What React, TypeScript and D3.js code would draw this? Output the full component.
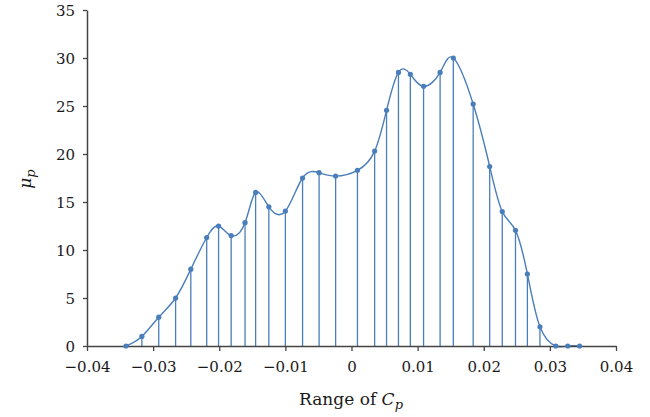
import { useEffect, useRef } from 'react';
import * as d3 from 'd3';

// sample points
const cpValues = [
  -0.0341, -0.0317, -0.02915, -0.0266, -0.0243, -0.0219, -0.0201, -0.0182,
  -0.0161, -0.0145, -0.0125, -0.01, -0.0074, -0.0049, -0.0024, 0.0009,
  0.0035, 0.0053, 0.0071, 0.0089, 0.0109, 0.0134, 0.0154, 0.0184,
  0.0209, 0.0228, 0.0248, 0.0266, 0.0285, 0.0309, 0.0327, 0.0345
];
const muValues = [
  0, 1, 3, 5, 8, 11.3, 12.5, 11.5,
  12.85, 16, 14.5, 14.05, 17.5, 18.05, 17.7, 18.3,
  20.3, 24.55, 28.5, 28.3, 27.05, 28.5, 30, 25.2,
  18.7, 14, 12.05, 7.5, 2, 0, 0, 0
];
const xTicks = [-0.04, -0.03, -0.02, -0.01, 0, 0.01, 0.02, 0.03, 0.04];
const yTicks = [0, 5, 10, 15, 20, 25, 30, 35];

const W = 650;
const H = 417;
const BLUE = '#4a7ebb';
const FONT = '"DejaVu Serif", "Liberation Serif", serif';

const App = () => {
  const svgRef = useRef(null);

  useEffect(() => {
    const svg = d3.select(svgRef.current);
    svg.selectAll('*').remove();

    const x = d3.scaleLinear().domain([-0.04, 0.04]).range([87, 616]);
    const y = d3.scaleLinear().domain([0, 35]).range([346, 10]);
    const data = cpValues.map((c, i) => ({ c, m: muValues[i] }));

    // drop lines
    svg.append('g')
      .selectAll('line')
      .data(data)
      .enter()
      .append('line')
      .attr('x1', d => x(d.c))
      .attr('x2', d => x(d.c))
      .attr('y1', d => y(d.m))
      .attr('y2', y(0))
      .attr('stroke', BLUE)
      .attr('stroke-width', 1.3);

    // smoothed curve
    const line = d3.line()
      .x(d => x(d.c))
      .y(d => y(d.m))
      .curve(d3.curveNatural);
    svg.append('path')
      .datum(data)
      .attr('d', line)
      .attr('fill', 'none')
      .attr('stroke', BLUE)
      .attr('stroke-width', 1.4);

    // axes
    const fmt = (v) => (v === 0 ? '0' : d3.format('.2f')(v));
    const gx = svg.append('g')
      .attr('transform', `translate(0,${y(0)})`)
      .call(d3.axisBottom(x).tickValues(xTicks).tickFormat(fmt).tickSizeInner(5).tickSizeOuter(0).tickPadding(10));
    const gy = svg.append('g')
      .attr('transform', `translate(${x(-0.04)},0)`)
      .call(d3.axisLeft(y).tickValues(yTicks).tickSizeInner(4).tickSizeOuter(0).tickPadding(8));

    [gx, gy].forEach(g => {
      g.select('.domain').attr('stroke', '#444').attr('stroke-width', 1.5);
      g.selectAll('.tick line').attr('stroke', '#444').attr('stroke-width', 1.3);
      g.selectAll('.tick text')
        .attr('fill', '#1a1a1a')
        .style('font-size', '15px')
        .style('font-family', FONT);
    });
    gy.selectAll('.tick text').attr('dy', '0.36em');

    // markers
    svg.append('g')
      .selectAll('circle')
      .data(data)
      .enter()
      .append('circle')
      .attr('cx', d => x(d.c))
      .attr('cy', d => y(d.m))
      .attr('r', 2.6)
      .attr('fill', BLUE);

    // axis titles
    const xt = svg.append('text')
      .attr('x', 351)
      .attr('y', 405)
      .attr('text-anchor', 'middle')
      .style('font-size', '17px')
      .style('font-family', FONT)
      .attr('fill', '#1a1a1a');
    xt.append('tspan').text('Range of ');
    xt.append('tspan').attr('font-style', 'italic').text('C');
    xt.append('tspan').attr('font-style', 'italic').style('font-size', '13px').attr('dy', 4).text('p');

    const yt = svg.append('text')
      .attr('transform', 'translate(31,179) rotate(-90)')
      .attr('text-anchor', 'middle')
      .style('font-size', '17px')
      .style('font-family', FONT)
      .attr('font-style', 'italic')
      .attr('fill', '#1a1a1a');
    yt.append('tspan').text('μ');
    yt.append('tspan').style('font-size', '13px').attr('dy', 4).text('p');
  }, []);

  return (
    <div style={{ position: 'absolute', left: 0, top: 0, background: '#fff' }}>
      <svg ref={svgRef} width={W} height={H} style={{ display: 'block' }} />
    </div>
  );
};

export default App;
